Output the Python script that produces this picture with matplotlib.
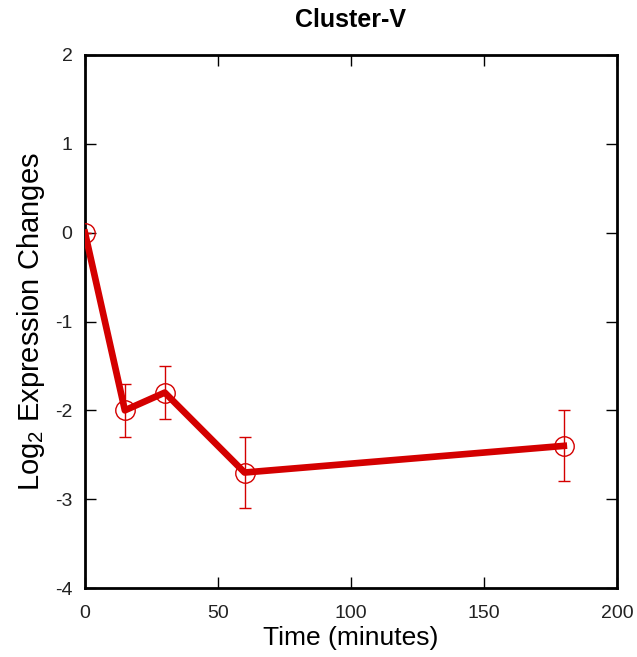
"""
Cluster-V 表达变化曲线
"""

import matplotlib
matplotlib.use('Agg')
import matplotlib.pyplot as plt

matplotlib.rcParams['font.family'] = ['Liberation Sans', 'DejaVu Sans']
matplotlib.rcParams['axes.unicode_minus'] = False
matplotlib.rcParams['mathtext.fontset'] = 'custom'
matplotlib.rcParams['mathtext.rm'] = 'Liberation Sans'
matplotlib.rcParams['mathtext.it'] = 'Liberation Sans'

# 数据
time_min = [0, 15, 30, 60, 180]
log2_change = [0, -2.0, -1.8, -2.7, -2.4]
err = [0, 0.3, 0.3, 0.4, 0.4]

x_ticks = [0, 50, 100, 150, 200]
y_ticks = [-4, -3, -2, -1, 0, 1, 2]

fig = plt.figure(figsize=(6.37, 6.57), dpi=100)
ax = fig.add_axes([0.1334, 0.105, 0.8352, 0.8113])

red = '#d40000'
ax.errorbar(time_min, log2_change, yerr=err, fmt='none', ecolor=red,
            elinewidth=1, capsize=4, capthick=1, zorder=2)
ax.plot(time_min, log2_change, color=red, linewidth=4.8, zorder=3)
ax.plot(time_min, log2_change, linestyle='none', marker='o', markersize=14,
        markerfacecolor='none', markeredgecolor=red, markeredgewidth=1, zorder=4)

ax.set_xlim(0, 200)
ax.set_ylim(-4, 2)
ax.set_xticks(x_ticks)
ax.set_yticks(y_ticks)
ax.tick_params(direction='in', length=8, width=1, top=True, right=True,
               labelsize=14, colors='black', labelcolor='#222222')
ax.tick_params(axis='x', pad=12)
ax.tick_params(axis='y', pad=9)
for s in ax.spines.values():
    s.set_linewidth(2)

ax.set_title('Cluster-V', fontsize=18, fontweight='bold', pad=20)
ax.set_xlabel('Time (minutes)', fontsize=19, labelpad=3)
ax.set_ylabel('Log$_2$ Expression Changes', fontsize=21, labelpad=6)

fig.savefig('out.png', dpi=100)
